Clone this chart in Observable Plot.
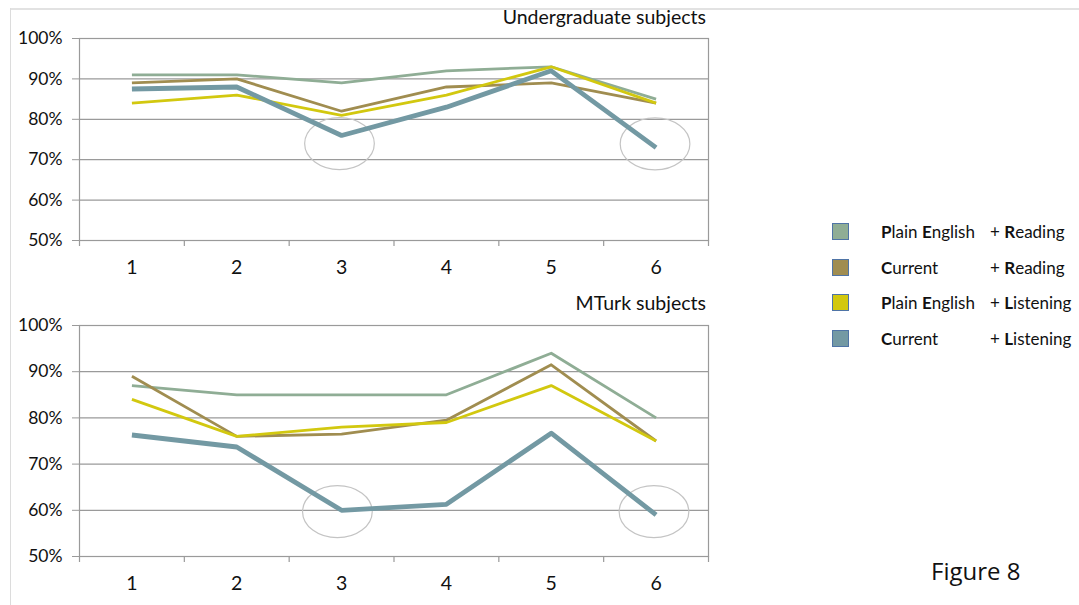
<!DOCTYPE html>
<html>
<head>
<meta charset="utf-8">
<script src="https://cdn.jsdelivr.net/npm/d3@7"></script>
<script src="https://cdn.jsdelivr.net/npm/@observablehq/plot@0.6"></script>
<style>
  html, body { margin: 0; padding: 0; background: #fff; }
  #root { position: relative; width: 1079px; height: 605px; overflow: hidden; font-family: Lato, "Open Sans", sans-serif; color: #111; }
  .abs { position: absolute; }
  .title { font-size: 19.5px; white-space: nowrap; }
  .leg { font-size: 17px; white-space: nowrap; }
  .leg b { font-weight: 700; }
  .sw { position: absolute; width: 17px; height: 17px; box-sizing: border-box; border: 1px solid #4f74a6; }
</style>
</head>
<body>
<div id="root"></div>
<script>
// ---- data ----
const categories = [1, 2, 3, 4, 5, 6];
const seriesNames = ["Plain English + Reading", "Current + Reading", "Plain English + Listening", "Current + Listening"];
const seriesColors = ["#8fad95", "#a08d50", "#d2c80f", "#7399a3"];
const seriesWidths = [2.8, 2.8, 2.8, 4.8];

const underPER = [0.91, 0.91, 0.89, 0.92, 0.93, 0.85];
const underCR  = [0.89, 0.90, 0.82, 0.88, 0.89, 0.84];
const underPEL = [0.84, 0.86, 0.81, 0.86, 0.93, 0.84];
const underCL  = [0.875, 0.88, 0.76, 0.83, 0.92, 0.73];

const mturkPER = [0.87, 0.85, 0.85, 0.85, 0.94, 0.80];
const mturkCR  = [0.89, 0.76, 0.765, 0.795, 0.915, 0.75];
const mturkPEL = [0.84, 0.76, 0.78, 0.79, 0.87, 0.75];
const mturkCL  = [0.763, 0.737, 0.60, 0.613, 0.767, 0.59];

const yTicks = [0.5, 0.6, 0.7, 0.8, 0.9, 1.0];
const underCircleX = [2.98, 5.99];
const underCircleY = [0.74, 0.739];
const mturkCircleX = [2.96, 5.98];
const mturkCircleY = [0.597, 0.597];

const titles = ["Undergraduate subjects", "MTurk subjects"];
const figureLabel = "Figure 8";

// ---- helpers ----
const root = document.getElementById("root");

function el(tag, cls, style, html) {
  const e = document.createElement(tag);
  if (cls) e.className = cls;
  Object.assign(e.style, style);
  if (html != null) e.innerHTML = html;
  root.appendChild(e);
  return e;
}

// ellipse symbol (wider than tall), size = pi r^2
const ellipseSymbol = {
  draw(ctx, size) {
    const r = Math.sqrt(size / Math.PI);
    const rx = r * 1.34, ry = r;
    const k = 0.5523;
    ctx.moveTo(rx, 0);
    ctx.bezierCurveTo(rx, ry * k, rx * k, ry, 0, ry);
    ctx.bezierCurveTo(-rx * k, ry, -rx, ry * k, -rx, 0);
    ctx.bezierCurveTo(-rx, -ry * k, -rx * k, -ry, 0, -ry);
    ctx.bezierCurveTo(rx * k, -ry, rx, -ry * k, rx, 0);
    ctx.closePath();
  }
};

const boundaries = categories.map(c => c - 0.5).concat([categories[categories.length - 1] + 0.5]);

function makeChart(seriesArrays, circX, circY, opts) {
  const data = [];
  seriesArrays.forEach((arr, si) => {
    arr.forEach((v, i) => data.push({ series: seriesNames[si], x: categories[i], y: v }));
  });
  const circles = circX.map((x, i) => ({ x, y: circY[i] }));
  const lineMarks = seriesNames.map((name, si) =>
    Plot.line(data.filter(d => d.series === name), {
      x: "x", y: "y", stroke: seriesColors[si], strokeWidth: seriesWidths[si],
      strokeLinejoin: "round", strokeLinecap: "butt"
    })
  );
  return Plot.plot({
    width: 720,
    height: opts.height,
    marginLeft: 79,
    marginRight: 12,
    marginTop: opts.marginTop,
    marginBottom: opts.marginBottom,
    style: { fontFamily: "Lato, 'Open Sans', sans-serif", color: "#111", background: "transparent", overflow: "visible" },
    x: { type: "linear", domain: [boundaries[0], boundaries[boundaries.length - 1]], axis: null, label: null },
    y: { domain: [0.5, 1.0], axis: null, label: null },
    marks: [
      Plot.gridY(yTicks, { stroke: "#9a9a9a", strokeOpacity: 1, strokeWidth: 1.2 }),
      Plot.frame({ stroke: "#9a9a9a", strokeWidth: 1.2 }),
      Plot.axisY(yTicks, {
        anchor: "left", tickSize: 7, tickPadding: 10, stroke: "#9a9a9a", label: null,
        tickFormat: d3.format(".0%"), fontSize: 17.5, fill: "#111"
      }),
      Plot.axisX(boundaries, {
        anchor: "bottom", tickSize: 6, tickFormat: () => "", stroke: "#9a9a9a", strokeWidth: 1.2, label: null
      }),
      Plot.axisX(categories, {
        anchor: "bottom", tickSize: 0, tickPadding: opts.labelPad, fontSize: 19.5, label: null,
        tickFormat: d => String(d), fill: "#111"
      }),
      Plot.dot(circles, {
        x: "x", y: "y", r: 26, symbol: ellipseSymbol, fill: "none", stroke: "#c4c4c4", strokeWidth: 1.2
      }),
      ...lineMarks
    ]
  });
}

// frame lines
el("div", "abs", { left: "10px", top: "8px", width: "1069px", height: "2px", background: "#e2e2e2" });
el("div", "abs", { left: "10px", top: "8px", width: "1px", height: "597px", background: "#dcdcdc" });

// top chart
const chartUnder = makeChart([underPER, underCR, underPEL, underCL], underCircleX, underCircleY,
  { height: 290, marginTop: 38, marginBottom: 50, labelPad: 20 });
chartUnder.style.position = "absolute"; chartUnder.style.left = "0px"; chartUnder.style.top = "0px";
root.appendChild(chartUnder);

// bottom chart
const chartMturk = makeChart([mturkPER, mturkCR, mturkPEL, mturkCL], mturkCircleX, mturkCircleY,
  { height: 315, marginTop: 35, marginBottom: 49, labelPad: 20 });
chartMturk.style.position = "absolute"; chartMturk.style.left = "0px"; chartMturk.style.top = "290px";
root.appendChild(chartMturk);

// titles (right aligned to x ≈ 706)
el("div", "abs title", { right: (1079 - 706) + "px", top: "5px" }, titles[0]);
el("div", "abs title", { right: (1079 - 706) + "px", top: "291px" }, titles[1]);

// legend
const legendParts = [
  ["<b>P</b>lain <b>E</b>nglish", "+ <b>R</b>eading"],
  ["<b>C</b>urrent", "+ <b>R</b>eading"],
  ["<b>P</b>lain <b>E</b>nglish", "+ <b>L</b>istening"],
  ["<b>C</b>urrent", "+ <b>L</b>istening"]
];
const legendY = [232, 268, 303, 339];
legendParts.forEach((p, i) => {
  el("div", "sw", { left: "832px", top: (legendY[i] - 9) + "px", background: seriesColors[i] });
  el("div", "abs leg", { left: "881px", top: (legendY[i] - 11) + "px" }, p[0]);
  el("div", "abs leg", { left: "990px", top: (legendY[i] - 11) + "px" }, p[1]);
});

// figure label
el("div", "abs", { left: "931px", top: "554px", fontFamily: "'Open Sans', sans-serif", fontSize: "24px", whiteSpace: "nowrap" }, figureLabel);
</script>
</body>
</html>
